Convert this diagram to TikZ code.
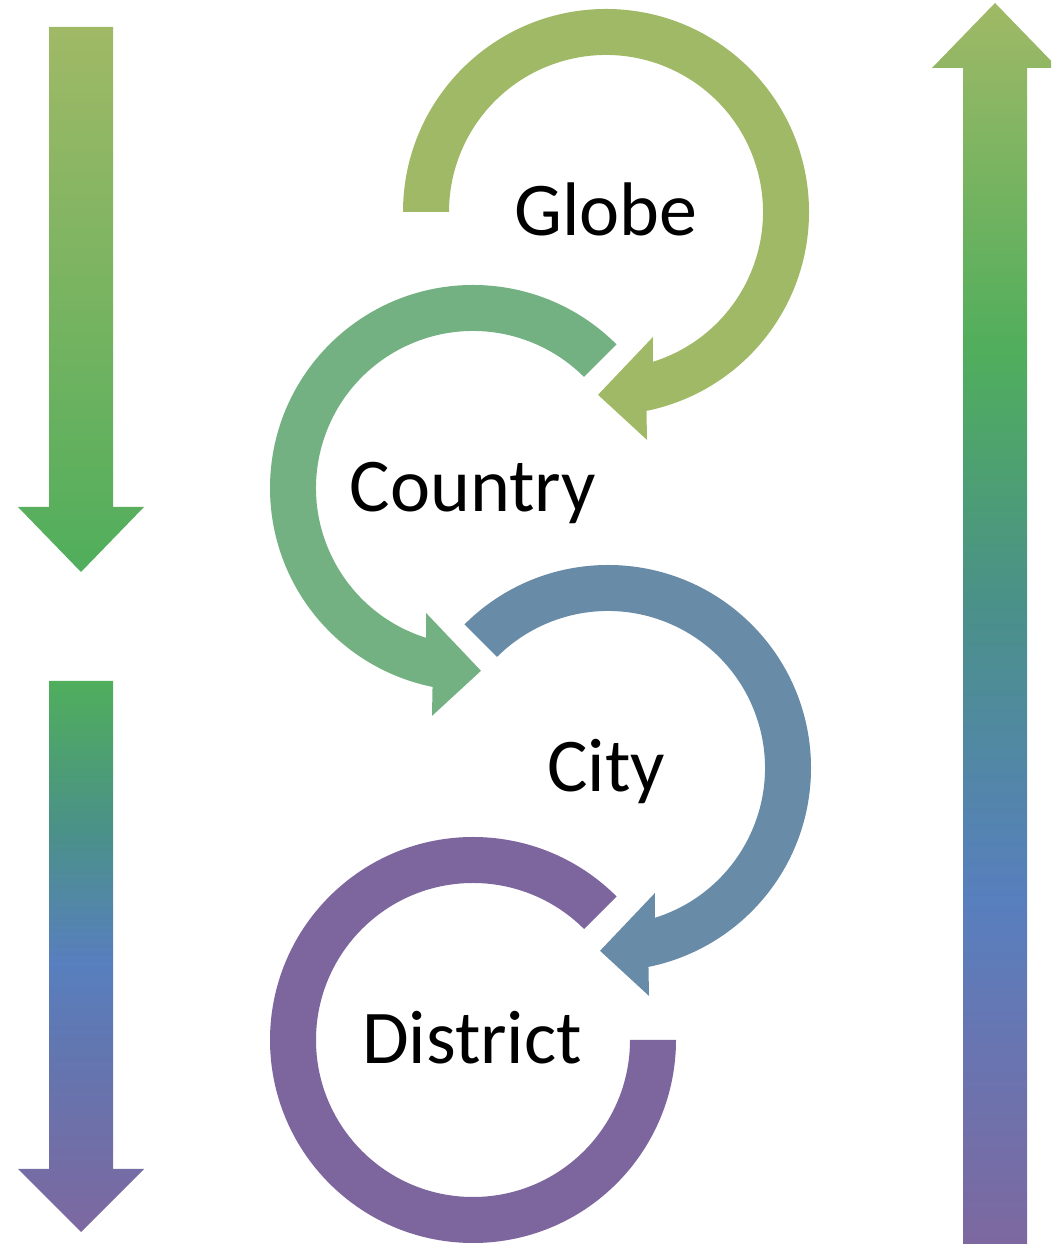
\documentclass[tikz,border=0pt]{standalone}
\usepackage{fontspec}
\setmainfont{Carlito}
\definecolor{cOlive}{RGB}{160,185,102}
\definecolor{cGreen}{RGB}{80,174,92}
\definecolor{cTeal}{RGB}{74,145,136}
\definecolor{cBlueA}{RGB}{88,127,190}
\definecolor{cBlueB}{RGB}{98,118,176}
\definecolor{cPurple}{RGB}{125,104,160}
\definecolor{cGlobe}{RGB}{160,185,102}
\definecolor{cCountry}{RGB}{115,176,130}
\definecolor{cCity}{RGB}{104,139,168}
\definecolor{cDistrict}{RGB}{125,102,158}
\pgfdeclareverticalshading{leftone}{100bp}{color(0bp)=(cGreen); color(25bp)=(cGreen); color(75bp)=(cOlive); color(100bp)=(cOlive)}
\pgfdeclareverticalshading{lefttwo}{100bp}{color(0bp)=(cPurple); color(25bp)=(cPurple); color(41.5bp)=(cBlueB); color(49.5bp)=(cBlueA); color(61.5bp)=(cTeal); color(75bp)=(cGreen); color(100bp)=(cGreen)}
\pgfdeclareverticalshading{rightone}{100bp}{color(0bp)=(cPurple); color(25bp)=(cPurple); color(38.9bp)=(cBlueA); color(51bp)=(cTeal); color(61bp)=(cGreen); color(75bp)=(cOlive); color(100bp)=(cOlive)}
\tikzset{
  lbl/.style={anchor=base, inner sep=0pt, font=\fontsize{21.6pt}{26pt}\selectfont, text=black},
}
\begin{document}
\begin{tikzpicture}[x=0.01cm,y=0.01cm]
\useasboundingbox (0,0) rectangle (1051,1246);
\clip (0,0) rectangle (1051,1246);
\fill[white] (0,0) rectangle (1051,1246);
% straight gradient arrows
\shade[shading=leftone] (49,1219) -- (113,1219) -- (113,739) -- (144,739) -- (81,674) -- (18,739) -- (49,739) -- cycle;
\shade[shading=lefttwo] (49,565) -- (113,565) -- (113,77) -- (144,77) -- (81,14) -- (18,77) -- (49,77) -- cycle;
\shade[shading=rightone] (963,2) -- (1027,2) -- (1027,1178) -- (1058,1178) -- (995,1243) -- (932,1178) -- (963,1178) -- cycle;
% Globe
\begin{scope}[shift={(606,1034)}]
\fill[cGlobe] (180:203) arc[start angle=180, end angle=-78.5, radius=203] -- (-79.8:231.6) -- (-92.5:183) -- (-69.4:133.5) -- (-72.6:157) arc[start angle=-72.6, end angle=180, radius=157] -- cycle;
\end{scope}
% Country
\begin{scope}[shift={(473,758)}]
\fill[cCountry] (45:203) arc[start angle=45, end angle=258.5, radius=203] -- (259.8:231.6) -- (272.5:183) -- (249.4:133.5) -- (252.6:157) arc[start angle=252.6, end angle=45, radius=157] -- cycle;
\end{scope}
% City
\begin{scope}[shift={(608,478)}]
\fill[cCity] (135:203) arc[start angle=135, end angle=-78.5, radius=203] -- (-79.8:231.6) -- (-92.5:183) -- (-69.4:133.5) -- (-72.6:157) arc[start angle=-72.6, end angle=135, radius=157] -- cycle;
\end{scope}
% District
\begin{scope}[shift={(473,206)}]
\fill[cDistrict] (45:203) arc[start angle=45, end angle=360, radius=203] -- (0:157) arc[start angle=360, end angle=45, radius=157] -- cycle;
\end{scope}
% labels
\node[lbl] (globe) at (606,1010) {Globe};
\node[lbl] (country) at (473,734) {Country};
\node[lbl] (city) at (606,454) {City};
\node[lbl] (district) at (472,182) {District};
\end{tikzpicture}
\end{document}
